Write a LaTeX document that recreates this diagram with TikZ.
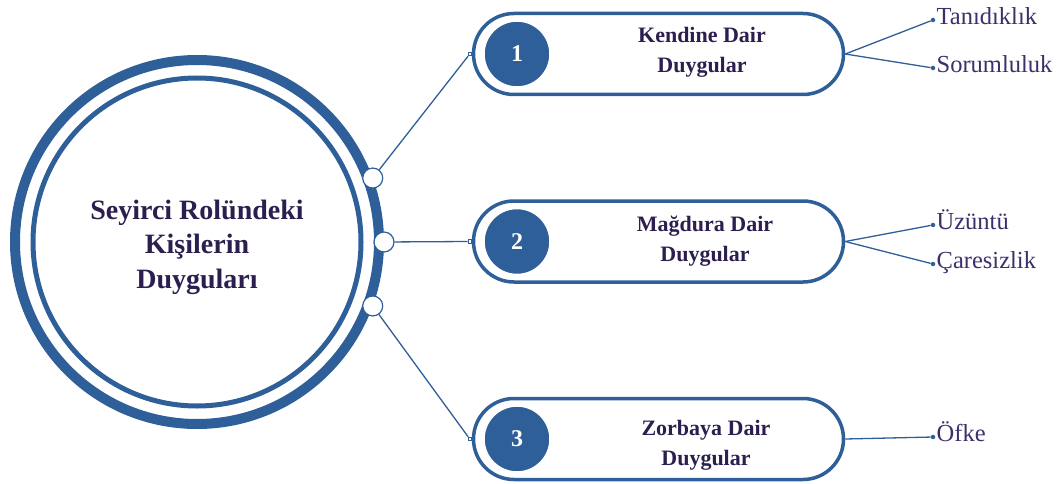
\documentclass[tikz,border=0pt]{standalone}
\usepackage{fontspec}
\setmainfont{Liberation Serif}
\usepackage{xcolor}
\usetikzlibrary{positioning, shapes.misc}

\definecolor{ringblue}{RGB}{46,95,152}
\definecolor{inkpurple}{RGB}{44,30,78}
\definecolor{leafpurple}{RGB}{62,46,106}

\tikzset{
  hubring/.style={circle, draw=ringblue, line width=5pt, minimum size=328pt, inner sep=0pt},
  outerring/.style={circle, draw=ringblue, line width=10pt, minimum size=364pt, inner sep=0pt},
  hubtext/.style={align=center, text=inkpurple, font=\bfseries\fontsize{28}{34.5}\selectfont},
  port/.style={circle, draw=ringblue, fill=white, line width=1.2pt, minimum size=20pt, inner sep=0pt},
  pill/.style={rounded rectangle, draw=ringblue, line width=3.5pt, minimum width=370pt, minimum height=81pt, inner sep=0pt},
  numdisc/.style={circle, fill=ringblue, draw=white, line width=1.5pt, minimum size=66pt, inner sep=0pt, text=white, font=\bfseries\fontsize{24}{26}\selectfont},
  headtext/.style={align=center, text=inkpurple, font=\bfseries\fontsize{22}{30}\selectfont},
  leaf/.style={text=leafpurple, font=\fontsize{24.5}{27}\selectfont, inner sep=1pt, text height=9pt, text depth=0pt},
  tipbox/.style={rectangle, draw=ringblue, fill=white, line width=0.8pt, minimum size=3.5pt, inner sep=0pt},
  leafdot/.style={circle, fill=ringblue, minimum size=4.5pt, inner sep=0pt},
  link/.style={ringblue, line width=1.3pt}
}

\begin{document}
\begin{tikzpicture}[x=1pt, y=-1pt]
  \useasboundingbox (0,0) rectangle (1057,484);

  % central circle
  \node[outerring] (ring) at (197,242) {};
  \node[hubring] (hub) at (197,242) {};
  \node[hubtext] (hubtext) at (197,247) {Seyirci Rolündeki\\Kişilerin\\Duyguları};
  \foreach \i/\a in {1/20, 2/0, 3/-20} \node[port] (p\i) at (ring.\a) {};

  % the three groups
  \foreach \i/\y in {1/54, 2/241.5, 3/439} {
    \node[pill] (k\i) at (658.5,\y) {};
    \node[numdisc] (n\i) at (517,\y) {\i};
    \node[tipbox] (t\i) at ([xshift=-2pt]k\i.west) {};
    \draw[link] (p\i) -- (t\i);
  }
  \node[headtext] (h1) at (702,52) {Kendine Dair\\Duygular};
  \node[headtext] (h2) at (705,241) {Mağdura Dair\\Duygular};
  \node[headtext] (h3) at (706,445) {Zorbaya Dair\\Duygular};

  % feelings
  \node[leafdot] (d1a) at (933,20) {};  \node[leaf, right=0pt of d1a] (l1a) {Tanıdıklık};
  \node[leafdot] (d1b) at (933,68) {};  \node[leaf, right=0pt of d1b] (l1b) {Sorumluluk};
  \node[leafdot] (d2a) at (933,225) {}; \node[leaf, right=0pt of d2a] (l2a) {Üzüntü};
  \node[leafdot] (d2b) at (933,264) {}; \node[leaf, right=0pt of d2b] (l2b) {Çaresizlik};
  \node[leafdot] (d3a) at (933,437) {}; \node[leaf, right=0pt of d3a] (l3a) {Öfke};

  \draw[link] (k1.east) -- (d1a); \draw[link] (k1.east) -- (d1b);
  \draw[link] (k2.east) -- (d2a); \draw[link] (k2.east) -- (d2b);
  \draw[link] (k3.east) -- (d3a);
\end{tikzpicture}
\end{document}
